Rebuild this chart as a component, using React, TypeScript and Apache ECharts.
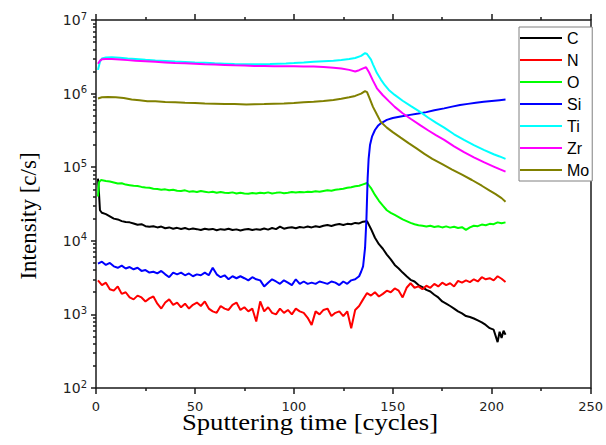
import React, { useEffect, useRef } from 'react';
import * as echarts from 'echarts';

const seriesNames = ['C', 'N', 'O', 'Si', 'Ti', 'Zr', 'Mo'];
const seriesColors = ['#000000', '#ff0000', '#00ff00', '#0000ff', '#00ffff', '#ff00ff', '#808000'];
const xTickValues = [0, 50, 100, 150, 200, 250];
const yDecadeValues = [1e2, 1e3, 1e4, 1e5, 1e6, 1e7];
const xTitle = 'Sputtering time [cycles]';
const yTitle = 'Intensity [c/s]';

const dataC: [number, number][] = [
  [1, 70000], [1.5, 45000], [2, 26000], [3, 24000], [5, 23000], [7, 21500], [9, 20000], [11, 19500], [13, 18500], [15, 18000],
  [17, 17800], [19, 17200], [21, 16500], [23, 16800], [25, 15800], [27, 15500], [29, 15800], [31, 15200], [33, 15600], [35, 14800],
  [37, 15200], [39, 14600], [41, 15000], [43, 14500], [45, 14900], [47, 14300], [49, 14700], [51, 14400], [53, 14000], [55, 14600],
  [57, 14200], [59, 14500], [61, 13900], [63, 14400], [65, 14100], [67, 14600], [69, 14000], [71, 14300], [73, 13800], [75, 14200],
  [77, 14500], [79, 14000], [81, 14400], [83, 14100], [85, 14700], [87, 14200], [89, 14900], [91, 14400], [93, 15600], [95, 14600],
  [97, 15000], [99, 15300], [101, 14800], [103, 15400], [105, 15100], [107, 15600], [109, 15200], [111, 15800], [113, 15400], [115, 16000],
  [117, 16400], [119, 15900], [121, 16500], [123, 16900], [125, 16400], [127, 17000], [129, 16800], [131, 17500], [133, 17200], [135, 18200],
  [137, 18500], [139, 14500], [141, 11000], [143, 9000], [145, 7800], [147, 6500], [149, 5600], [151, 4700], [153, 4200], [155, 3700],
  [157, 3300], [159, 2950], [161, 2800], [163, 2500], [165, 2350], [167, 2150], [169, 2050], [171, 1850], [173, 1700], [175, 1500],
  [177, 1400], [179, 1300], [181, 1200], [183, 1100], [185, 1030], [187, 950], [189, 920], [191, 880], [193, 830], [195, 780],
  [197, 720], [199, 650], [201, 620], [203, 420], [204, 580], [205, 480], [206, 600], [207, 530],
];

const dataN: [number, number][] = [
  [1, 2900], [3, 2500], [5, 2700], [7, 2200], [9, 2100], [11, 2400], [13, 1900], [15, 2000], [17, 1700], [19, 1600],
  [21, 1800], [23, 1700], [25, 1500], [27, 1650], [29, 1750], [31, 1400], [33, 1200], [35, 1450], [37, 1600], [39, 1350],
  [41, 1450], [43, 1250], [45, 1400], [47, 1200], [49, 1350], [51, 1450], [53, 1300], [55, 1500], [57, 1200], [59, 1100],
  [61, 1050], [63, 1300], [65, 1200], [67, 1150], [69, 1350], [71, 1450], [73, 1150], [75, 1250], [77, 1100], [79, 1200],
  [81, 800], [83, 1500], [85, 1100], [87, 1250], [89, 1050], [91, 1000], [93, 1200], [95, 1050], [97, 1150], [99, 1000],
  [101, 1200], [103, 1100], [105, 1050], [107, 900], [109, 720], [111, 1100], [113, 1000], [115, 1150], [117, 1200], [119, 950],
  [121, 1050], [123, 1100], [125, 950], [127, 1100], [129, 650], [131, 1150], [133, 1300], [135, 1600], [137, 1950], [139, 1800],
  [141, 2000], [143, 1750], [145, 1900], [147, 2100], [149, 2000], [151, 2250], [153, 2100], [155, 1700], [157, 2300], [159, 2650],
  [161, 2300], [163, 2400], [165, 2200], [167, 2450], [169, 2300], [171, 2600], [173, 2400], [175, 2700], [177, 2500], [179, 2650],
  [181, 2400], [183, 2850], [185, 2700], [187, 2900], [189, 2750], [191, 3000], [193, 2800], [195, 3200], [197, 3000], [199, 3100],
  [201, 2900], [203, 3300], [205, 3050], [207, 2750],
];

const dataO: [number, number][] = [
  [1, 40000], [1.5, 62000], [2.5, 67000], [5, 65000], [7, 64000], [9, 62000], [11, 60000], [13, 60500], [15, 58000], [17, 57000],
  [19, 56000], [21, 55500], [23, 54000], [25, 53000], [27, 52500], [29, 51000], [31, 50500], [33, 49500], [35, 50000], [37, 48500],
  [39, 49500], [41, 48000], [43, 47500], [45, 48500], [47, 46500], [49, 47000], [51, 46000], [53, 47500], [55, 46500], [57, 45500],
  [59, 46500], [61, 45000], [63, 46000], [65, 45000], [67, 44500], [69, 45500], [71, 44000], [73, 45000], [75, 44000], [77, 43500],
  [79, 44500], [81, 43800], [83, 45000], [85, 44200], [87, 45500], [89, 44000], [91, 44800], [93, 45500], [95, 44300], [97, 45000],
  [99, 46000], [101, 45200], [103, 46000], [105, 45500], [107, 46500], [109, 46000], [111, 47000], [113, 46500], [115, 47500], [117, 48500],
  [119, 48000], [121, 49500], [123, 50000], [125, 51000], [127, 52500], [129, 53500], [131, 55000], [133, 56000], [135, 58500], [137, 61000],
  [139, 52000], [141, 42000], [143, 35000], [145, 30000], [147, 26000], [149, 24000], [151, 22500], [153, 21000], [155, 19500], [157, 18500],
  [159, 17500], [161, 16800], [163, 16300], [165, 16000], [167, 15600], [169, 16000], [171, 15400], [173, 15800], [175, 15200], [177, 15700],
  [179, 15100], [181, 15500], [183, 14900], [185, 15300], [187, 14100], [189, 15200], [191, 16000], [193, 15800], [195, 16600], [197, 16300],
  [199, 17000], [201, 16800], [203, 17800], [205, 17300], [207, 17800],
];

const dataSi: [number, number][] = [
  [1, 4900], [3, 5200], [5, 4700], [7, 5000], [9, 4500], [11, 4300], [13, 4600], [15, 4200], [17, 4400], [19, 4100],
  [21, 4300], [23, 3900], [25, 4000], [27, 3700], [29, 3800], [31, 3600], [33, 3900], [35, 3500], [37, 3200], [39, 3700],
  [41, 3500], [43, 3700], [45, 3400], [47, 3600], [49, 3300], [51, 3500], [53, 3400], [55, 3700], [57, 3400], [59, 4300],
  [61, 3500], [63, 3200], [65, 3400], [67, 3000], [69, 3300], [71, 3100], [73, 3300], [75, 3100], [77, 2900], [79, 3200],
  [81, 3000], [83, 2900], [85, 2400], [87, 2700], [89, 3000], [91, 2800], [93, 2600], [95, 2900], [97, 2700], [99, 2500],
  [101, 3000], [103, 2600], [105, 2800], [107, 2600], [109, 2700], [111, 2600], [113, 2800], [115, 2700], [117, 2600], [119, 2800],
  [121, 2700], [123, 2500], [125, 2800], [127, 2600], [129, 2900], [131, 3000], [133, 3300], [134, 3800], [135, 4500], [136, 8000],
  [136.7, 20000], [137.3, 70000], [137.8, 130000], [138.5, 200000], [139.5, 260000], [141, 320000], [142.5, 365000], [144, 395000], [147, 440000], [150, 465000],
  [154, 490000], [158, 510000], [163, 535000], [167, 560000], [171, 595000], [176, 630000], [180, 665000], [184, 700000], [188, 725000], [192, 750000],
  [196, 775000], [200, 795000], [204, 815000], [207, 830000],
];

const dataTi: [number, number][] = [
  [1, 2100000], [2, 2700000], [3, 3000000], [5, 3100000], [8, 3120000], [12, 3080000], [16, 3000000], [20, 2950000], [25, 2880000], [30, 2820000],
  [35, 2770000], [40, 2720000], [45, 2690000], [50, 2650000], [55, 2620000], [60, 2580000], [65, 2550000], [70, 2520000], [76, 2500000], [82, 2510000],
  [88, 2530000], [92, 2550000], [96, 2570000], [100, 2600000], [105, 2640000], [110, 2700000], [115, 2760000], [120, 2800000], [124, 2870000], [128, 2950000],
  [131, 3050000], [134, 3250000], [136, 3550000], [137, 3450000], [139, 2900000], [140, 2500000], [142, 1900000], [144, 1550000], [146, 1300000], [148, 1120000],
  [151, 960000], [155, 800000], [159, 680000], [164, 560000], [168, 470000], [172, 400000], [176, 345000], [181, 280000], [186, 235000], [191, 200000],
  [196, 172000], [201, 150000], [204, 140000], [207, 130000],
];

const dataZr: [number, number][] = [
  [1, 2550000], [2, 2800000], [3, 2920000], [5, 2950000], [8, 2950000], [12, 2900000], [16, 2850000], [20, 2800000], [25, 2750000], [30, 2700000],
  [35, 2650000], [40, 2600000], [45, 2580000], [50, 2550000], [55, 2510000], [60, 2480000], [65, 2450000], [70, 2420000], [75, 2400000], [80, 2380000],
  [85, 2370000], [90, 2360000], [95, 2360000], [100, 2350000], [105, 2340000], [110, 2330000], [115, 2300000], [120, 2250000], [124, 2200000], [128, 2100000],
  [131, 2000000], [133, 2080000], [135, 2200000], [136.5, 2280000], [138, 1950000], [140, 1500000], [142, 1180000], [145, 950000], [148, 790000], [151, 660000],
  [155, 540000], [159, 455000], [164, 370000], [168, 315000], [172, 270000], [176, 235000], [181, 192000], [186, 160000], [191, 136000], [196, 117000],
  [201, 102000], [204, 94000], [207, 87000],
];

const dataMo: [number, number][] = [
  [1, 860000], [3, 890000], [6, 900000], [10, 890000], [14, 870000], [18, 830000], [22, 810000], [26, 790000], [30, 785000], [35, 770000],
  [40, 760000], [45, 750000], [50, 745000], [55, 735000], [60, 730000], [65, 725000], [70, 720000], [76, 710000], [80, 715000], [85, 720000],
  [90, 728000], [95, 735000], [100, 745000], [105, 760000], [110, 775000], [115, 795000], [120, 820000], [124, 850000], [128, 890000], [131, 930000],
  [134, 1000000], [136, 1080000], [137, 1050000], [138, 900000], [140, 660000], [142, 520000], [144, 410000], [147, 345000], [150, 300000], [154, 252000],
  [158, 212000], [162, 180000], [166, 152000], [170, 130000], [175, 110000], [180, 93000], [185, 79000], [190, 67000], [195, 56000], [199, 48000],
  [202, 43000], [205, 38000], [207, 34000],
];

const allData = [dataC, dataN, dataO, dataSi, dataTi, dataZr, dataMo];

export default function App() {
  const ref = useRef<HTMLDivElement>(null);
  useEffect(() => {
    if (!ref.current) return;
    const chart = echarts.init(ref.current, undefined, { renderer: 'svg' });
    const minorY: number[] = [];
    for (let d = 0; d < yDecadeValues.length - 1; d++) {
      for (let k = 2; k <= 9; k++) minorY.push(yDecadeValues[d] * k);
    }
    const axisLineStyle = { color: '#1a1a1a', width: 1.5 };
    const grid = { left: 96, right: 12, top: 20, bottom: 57 };
    chart.setOption({
      animation: false,
      backgroundColor: '#ffffff',
      grid,
      legend: {
        data: seriesNames,
        orient: 'vertical',
        left: 519,
        top: 27,
        icon: 'rect',
        itemWidth: 42,
        itemHeight: 2,
        itemGap: 6,
        padding: [3, 3, 3, 1],
        backgroundColor: '#ffffff',
        borderColor: '#808080',
        borderWidth: 1,
        borderRadius: 0,
        textStyle: { fontFamily: 'Liberation Sans', fontSize: 16, lineHeight: 16, color: '#000', padding: [0, 0, 0, 0] },
      },
      xAxis: [
        {
          type: 'value', min: 0, max: 250, interval: 50, position: 'bottom',
          axisLine: { show: true, lineStyle: axisLineStyle },
          axisTick: { show: true, inside: false, length: 6, lineStyle: axisLineStyle },
          minorTick: { show: true, splitNumber: 2, length: 3, lineStyle: axisLineStyle },
          splitLine: { show: false },
          axisLabel: {
            margin: 12, fontFamily: 'DejaVu Sans', fontSize: 13, lineHeight: 12, color: '#222',
            customValues: xTickValues,
          },
        },
        {
          type: 'value', min: 0, max: 250, interval: 50, position: 'top',
          axisLine: { show: true, lineStyle: axisLineStyle },
          axisTick: { show: true, length: 6, lineStyle: axisLineStyle },
          minorTick: { show: true, splitNumber: 2, length: 3, lineStyle: axisLineStyle },
          splitLine: { show: false },
          axisLabel: { show: false },
        },
      ],
      yAxis: [
        {
          type: 'log', logBase: 10, min: 100, max: 1e7, position: 'left',
          axisLine: { show: true, lineStyle: axisLineStyle },
          axisTick: { show: true, length: 5, lineStyle: axisLineStyle },
          splitLine: { show: false },
          axisLabel: {
            margin: 9,
            formatter: (v: number) => `{b|10}{s|${Math.round(Math.log10(v))}}`,
            rich: {
              b: { fontFamily: 'DejaVu Sans', fontSize: 14, color: '#222', lineHeight: 18 },
              s: { fontFamily: 'DejaVu Sans', fontSize: 10, color: '#222', lineHeight: 10, verticalAlign: 'top' },
            },
          },
        },
        {
          type: 'log', logBase: 10, min: 100, max: 1e7, position: 'left',
          axisLine: { show: false },
          axisTick: { show: true, length: 3, customValues: minorY, lineStyle: axisLineStyle },
          splitLine: { show: false },
          axisLabel: { show: false },
        },
        {
          type: 'log', logBase: 10, min: 100, max: 1e7, position: 'right',
          axisLine: { show: true, lineStyle: axisLineStyle },
          axisTick: { show: false },
          splitLine: { show: false },
          axisLabel: { show: false },
        },
      ],
      series: seriesNames.map((name, i) => ({
        name,
        type: 'line',
        xAxisIndex: 0,
        yAxisIndex: 0,
        data: allData[i],
        symbol: 'none',
        showSymbol: false,
        color: seriesColors[i],
        lineStyle: { color: seriesColors[i], width: 2 },
        z: 2,
      })),
      graphic: [
        {
          type: 'text', x: 310, y: 422, scaleX: 1.16,
          style: {
            text: xTitle, fill: '#000', font: '23px "Liberation Serif"', lineHeight: 18,
            textAlign: 'center', textVerticalAlign: 'middle',
          },
        },
        {
          type: 'text', x: 28, y: 216, rotation: Math.PI / 2,
          style: {
            text: yTitle, fill: '#000', font: '23px "Liberation Serif"',
            textAlign: 'center', textVerticalAlign: 'middle',
          },
        },
      ],
    });
    return () => chart.dispose();
  }, []);
  return <div ref={ref} style={{ position: 'fixed', left: 0, top: 0, width: 606, height: 445, background: '#fff' }} />;
}
